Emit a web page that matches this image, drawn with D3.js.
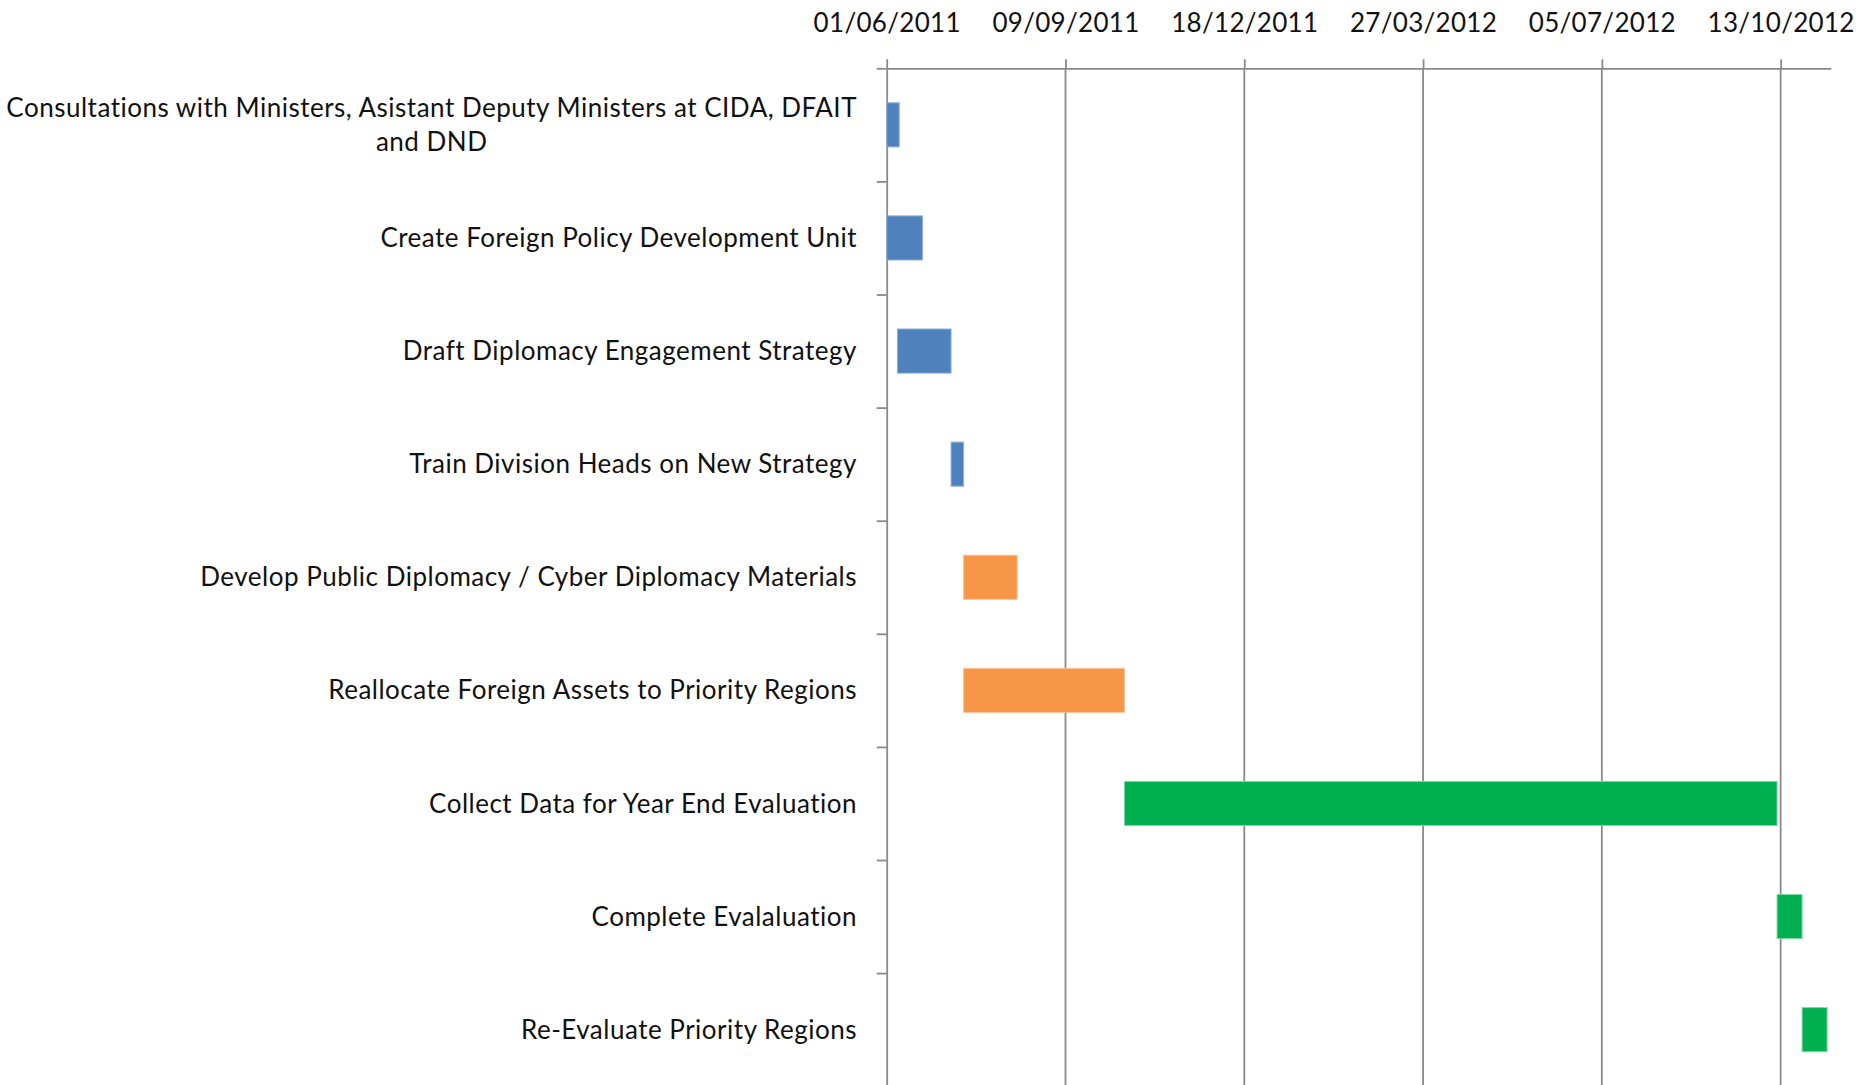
<!DOCTYPE html>
<html>
<head>
<meta charset="utf-8">
<script src="https://cdn.jsdelivr.net/npm/d3@7"></script>
<style>
  html, body { margin: 0; padding: 0; background: #ffffff; }
  svg { display: block; }
  text { font-family: Lato, "Open Sans", sans-serif; fill: #111; }
</style>
</head>
<body>
<svg id="chart" width="1875" height="1085"></svg>
<script>
// ---- data ----
const tasks = [
  "Consultations with Ministers, Asistant Deputy Ministers at CIDA, DFAIT|and DND",
  "Create Foreign Policy Development Unit",
  "Draft Diplomacy Engagement Strategy",
  "Train Division Heads on New Strategy",
  "Develop Public Diplomacy / Cyber Diplomacy Materials",
  "Reallocate Foreign Assets to Priority Regions",
  "Collect Data for Year End Evaluation",
  "Complete Evalaluation",
  "Re-Evaluate Priority Regions"
];
const startDates = ["2011-06-01","2011-06-01","2011-06-07","2011-07-07","2011-07-14","2011-07-14","2011-10-12","2012-10-11","2012-10-25"];
const durations = [7, 20, 30, 7, 30, 90, 365, 14, 14];
const phases = ["plan","plan","plan","plan","impl","impl","eval","eval","eval"];
const phaseNames = ["plan","impl","eval"];
const phaseColors = ["#4F81BD","#F79646","#00B050"];
const phaseStrokes = ["#8fb0d8","#fbc59c","#7fd8a7"];
const tickDates = ["2011-06-01","2011-09-09","2011-12-18","2012-03-27","2012-07-05","2012-10-13"];
const axisDomain = ["2011-06-01","2012-11-10"];

// ---- layout ----
const svg = d3.select("#chart");
const pLeft = 886.7, pRight = 1830.7, pTop = 68.3, pBottom = 1086.2;
const parse = d3.utcParse("%Y-%m-%d");
const fmt = d3.utcFormat("%d/%m/%Y");

const x = d3.scaleUtc().domain(axisDomain.map(parse)).range([pLeft, pRight]);
const y = d3.scaleBand().domain(d3.range(tasks.length)).range([pTop, pBottom])
  .paddingInner(0.61).paddingOuter(0.305);
const yIdx = d3.scaleLinear().domain([0, tasks.length]).range([pTop, pBottom]);
const color = d3.scaleOrdinal().domain(phaseNames).range(phaseColors);
const strokeC = d3.scaleOrdinal().domain(phaseNames).range(phaseStrokes);

const gridColor = "#8a8a8a";

// gridlines
svg.append("g").selectAll("line").data(tickDates.slice(1).map(parse)).join("line")
  .attr("x1", d => x(d)).attr("x2", d => x(d))
  .attr("y1", pTop).attr("y2", pBottom)
  .attr("stroke", gridColor).attr("stroke-width", 1.8);

// top axis
const xAxis = d3.axisTop(x)
  .tickValues(tickDates.map(parse))
  .tickFormat(fmt)
  .tickSize(9).tickSizeOuter(0).tickPadding(27);
const gx = svg.append("g").attr("transform", `translate(0,${pTop})`).call(xAxis);
gx.select(".domain").attr("stroke", gridColor).attr("stroke-width", 1.8);
gx.selectAll(".tick line").attr("stroke", gridColor).attr("stroke-width", 1.8);
gx.selectAll(".tick text").attr("font-size", 26).attr("fill", "#111")
  .attr("letter-spacing", 0.3)
  .attr("font-family", "Lato, sans-serif").attr("dy", 0);

// left axis (ticks at category boundaries)
const yAxis = d3.axisLeft(yIdx).tickValues(d3.range(tasks.length + 1)).tickFormat("")
  .tickSize(10).tickSizeOuter(0);
const gy = svg.append("g").attr("transform", `translate(${pLeft},0)`).call(yAxis);
gy.select(".domain").attr("stroke", gridColor).attr("stroke-width", 1.8);
gy.selectAll(".tick line").attr("stroke", gridColor).attr("stroke-width", 1.8);

// bars
svg.append("g").selectAll("rect").data(d3.range(tasks.length)).join("rect")
  .attr("x", i => x(parse(startDates[i])))
  .attr("width", i => x(d3.utcDay.offset(parse(startDates[i]), durations[i])) - x(parse(startDates[i])))
  .attr("y", i => y(i))
  .attr("height", y.bandwidth())
  .attr("fill", i => color(phases[i]))
  .attr("stroke", i => strokeC(phases[i]))
  .attr("stroke-width", 1);

// category labels
const labelRight = 857;
const lineH = 34.7;
const labels = svg.append("g").attr("font-size", 26).attr("letter-spacing", 0.5);
tasks.forEach((t, i) => {
  const lines = t.split("|");
  const cy = y(i) + y.bandwidth() / 2;
  const g = labels.append("g");
  const first = g.append("text")
    .attr("x", labelRight)
    .attr("y", cy - (lines.length - 1) * lineH / 2)
    .attr("dy", "0.35em")
    .attr("text-anchor", "end")
    .text(lines[0]);
  if (lines.length > 1) {
    const w = first.node().getComputedTextLength();
    for (let k = 1; k < lines.length; k++) {
      g.append("text")
        .attr("x", labelRight - w / 2)
        .attr("y", cy - (lines.length - 1) * lineH / 2 + k * lineH)
        .attr("dy", "0.35em")
        .attr("text-anchor", "middle")
        .text(lines[k]);
    }
  }
});
</script>
</body>
</html>
